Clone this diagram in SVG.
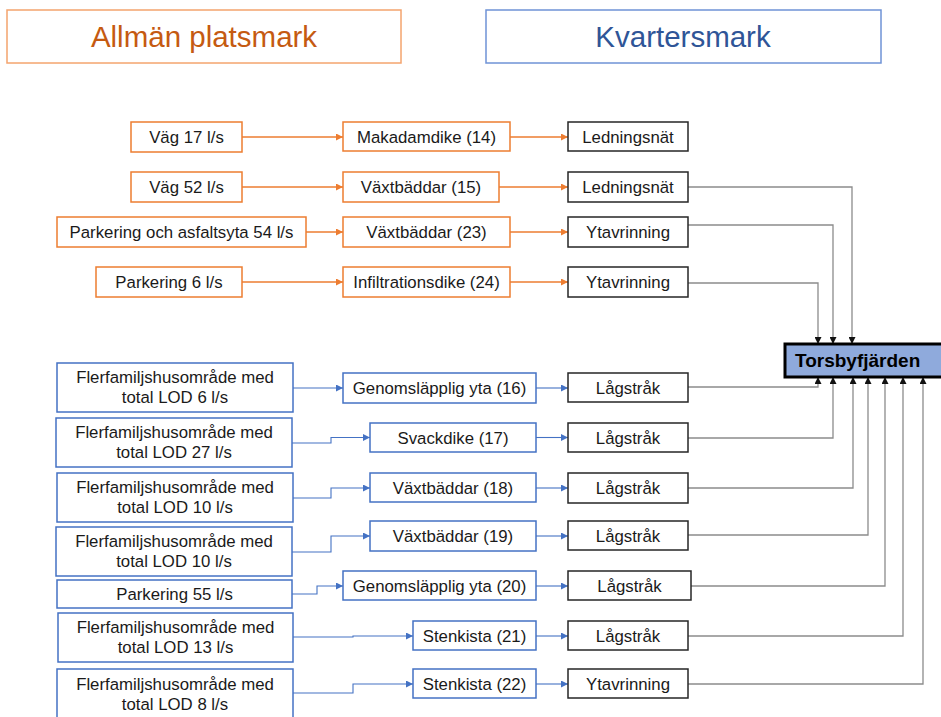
<svg xmlns="http://www.w3.org/2000/svg" width="941" height="717" viewBox="0 0 941 717">
<style>
text{font-family:"Liberation Sans",Arial,sans-serif;font-size:16.8px;fill:#1a1a1a;text-anchor:middle}
.o{fill:#fff;stroke:#ED7D31;stroke-width:1.5}
.b{fill:#fff;stroke:#4472C4;stroke-width:1.5}
.k{fill:#fff;stroke:#262626;stroke-width:1.5}
.co{fill:none;stroke:#ED7D31;stroke-width:1.5}
.cb{fill:none;stroke:#4472C4;stroke-width:1.1}
.cg{fill:none;stroke:#8C8C8C;stroke-width:1.3}
.h{font-size:29.5px}
</style>
<defs>
<marker id="ao" viewBox="0 0 6 6" refX="6" refY="3" markerWidth="8" markerHeight="7" orient="auto" markerUnits="userSpaceOnUse"><path d="M0,0L6,3L0,6z" fill="#ED7D31"/></marker>
<marker id="ab" viewBox="0 0 6 6" refX="6" refY="3" markerWidth="7" markerHeight="7" orient="auto" markerUnits="userSpaceOnUse"><path d="M0,0L6,3L0,6z" fill="#4472C4"/></marker>
<marker id="ak" viewBox="0 0 6 6" refX="6" refY="3" markerWidth="7" markerHeight="7" orient="auto" markerUnits="userSpaceOnUse"><path d="M0,0L6,3L0,6z" fill="#111"/></marker>
</defs>

<g id="hdr-allman"><rect x="7" y="10" width="394" height="53" fill="#fff" stroke="#F4A46E" stroke-width="1.5"/><text class="h" x="204" y="47" style="fill:#C55A11">Allmän platsmark</text></g>
<g id="hdr-kvarter"><rect x="486" y="10" width="395" height="53" fill="#fff" stroke="#6F93D6" stroke-width="1.5"/><text class="h" x="683" y="47" style="fill:#2F5597">Kvartersmark</text></g>

<g id="connectors">
<path class="co" d="M242,137H343" marker-end="url(#ao)"/>
<path class="co" d="M242,187H343" marker-end="url(#ao)"/>
<path class="co" d="M306,232H343" marker-end="url(#ao)"/>
<path class="co" d="M242,282H343" marker-end="url(#ao)"/>
<path class="co" d="M510,137H568" marker-end="url(#ao)"/>
<path class="co" d="M499,187H568" marker-end="url(#ao)"/>
<path class="co" d="M510,232H568" marker-end="url(#ao)"/>
<path class="co" d="M510,282H568" marker-end="url(#ao)"/>

<path class="cg" d="M688,187H852V344" marker-end="url(#ak)"/>
<path class="cg" d="M688,225H833V344" marker-end="url(#ak)"/>
<path class="cg" d="M688,283H818V344" marker-end="url(#ak)"/>
<path class="cg" d="M688,387H818V377" marker-end="url(#ak)"/>
<path class="cg" d="M688,438H833V377" marker-end="url(#ak)"/>
<path class="cg" d="M688,488H853V377" marker-end="url(#ak)"/>
<path class="cg" d="M688,535H868V377" marker-end="url(#ak)"/>
<path class="cg" d="M691,586H885V377" marker-end="url(#ak)"/>
<path class="cg" d="M688,636H903V377" marker-end="url(#ak)"/>
<path class="cg" d="M688,684H923V377" marker-end="url(#ak)"/>

<path class="cb" d="M293,388H343" marker-end="url(#ab)"/>
<path class="cb" d="M292,443H331V437.5H370" marker-end="url(#ab)"/>
<path class="cb" d="M293,498H331V488H370" marker-end="url(#ab)"/>
<path class="cb" d="M292,552H331V536H370" marker-end="url(#ab)"/>
<path class="cb" d="M292,594H317V586H343" marker-end="url(#ab)"/>
<path class="cb" d="M293,637H353V636H413" marker-end="url(#ab)"/>
<path class="cb" d="M293,693H353V684H413" marker-end="url(#ab)"/>
<path class="cb" d="M536,388H568" marker-end="url(#ab)"/>
<path class="cb" d="M536,437.5H568" marker-end="url(#ab)"/>
<path class="cb" d="M536,488H568" marker-end="url(#ab)"/>
<path class="cb" d="M536,536H568" marker-end="url(#ab)"/>
<path class="cb" d="M536,586H568" marker-end="url(#ab)"/>
<path class="cb" d="M536,636H568" marker-end="url(#ab)"/>
<path class="cb" d="M536,684H568" marker-end="url(#ab)"/>
</g>

<g id="s1"><rect class="o" x="131" y="122" width="111" height="30"/><text x="186.5" y="143">Väg 17 l/s</text></g>
<g id="s2"><rect class="o" x="131" y="172" width="111" height="30"/><text x="186.5" y="193">Väg 52 l/s</text></g>
<g id="s3"><rect class="o" x="57" y="217" width="249" height="30"/><text x="181.5" y="238">Parkering och asfaltsyta 54 l/s</text></g>
<g id="s4"><rect class="o" x="96" y="267" width="146" height="30"/><text x="169" y="288">Parkering 6 l/s</text></g>

<g id="m1"><rect class="o" x="343" y="122" width="167" height="29"/><text x="426.5" y="143">Makadamdike (14)</text></g>
<g id="m2"><rect class="o" x="343" y="172" width="156" height="30"/><text x="421" y="193">Växtbäddar (15)</text></g>
<g id="m3"><rect class="o" x="343" y="217" width="167" height="30"/><text x="426.5" y="238">Växtbäddar (23)</text></g>
<g id="m4"><rect class="o" x="343" y="267" width="167" height="30"/><text x="426.5" y="288">Infiltrationsdike (24)</text></g>

<g id="r1"><rect class="k" x="568" y="122" width="120" height="29"/><text x="628" y="143">Ledningsnät</text></g>
<g id="r2"><rect class="k" x="568" y="172" width="120" height="30"/><text x="628" y="193">Ledningsnät</text></g>
<g id="r3"><rect class="k" x="568" y="217" width="120" height="30"/><text x="628" y="238">Ytavrinning</text></g>
<g id="r4"><rect class="k" x="568" y="267" width="120" height="30"/><text x="628" y="288">Ytavrinning</text></g>
<g id="r5"><rect class="k" x="568" y="373" width="120" height="29"/><text x="628" y="393.5">Lågstråk</text></g>
<g id="r6"><rect class="k" x="568" y="423" width="120" height="29"/><text x="628" y="443.5">Lågstråk</text></g>
<g id="r7"><rect class="k" x="568" y="473" width="120" height="30"/><text x="628" y="494">Lågstråk</text></g>
<g id="r8"><rect class="k" x="568" y="521" width="120" height="29"/><text x="628" y="541.5">Lågstråk</text></g>
<g id="r9"><rect class="k" x="568" y="571" width="123" height="29"/><text x="629.5" y="591.5">Lågstråk</text></g>
<g id="r10"><rect class="k" x="568" y="621" width="120" height="29"/><text x="628" y="641.5">Lågstråk</text></g>
<g id="r11"><rect class="k" x="568" y="669" width="120" height="29"/><text x="628" y="689.5">Ytavrinning</text></g>

<g id="b1"><rect class="b" x="343" y="373" width="193" height="30"/><text x="439.5" y="394">Genomsläpplig yta (16)</text></g>
<g id="b2"><rect class="b" x="370" y="423" width="166" height="29"/><text x="453" y="443.5">Svackdike (17)</text></g>
<g id="b3"><rect class="b" x="370" y="473" width="166" height="29"/><text x="453" y="493.5">Växtbäddar (18)</text></g>
<g id="b4"><rect class="b" x="370" y="521" width="166" height="30"/><text x="453" y="542">Växtbäddar (19)</text></g>
<g id="b5"><rect class="b" x="343" y="571" width="193" height="29"/><text x="439.5" y="591.5">Genomsläpplig yta (20)</text></g>
<g id="b6"><rect class="b" x="413" y="621" width="123" height="29"/><text x="474.5" y="641.5">Stenkista (21)</text></g>
<g id="b7"><rect class="b" x="413" y="669" width="123" height="29"/><text x="474.5" y="689.5">Stenkista (22)</text></g>

<g id="l1"><rect class="b" x="57" y="363" width="236" height="49"/><text x="175" y="383">Flerfamiljshusområde med</text><text x="175" y="403">total LOD 6 l/s</text></g>
<g id="l2"><rect class="b" x="56" y="418" width="236" height="49"/><text x="174" y="438">Flerfamiljshusområde med</text><text x="174" y="458">total LOD 27 l/s</text></g>
<g id="l3"><rect class="b" x="57" y="473" width="236" height="49"/><text x="175" y="493">Flerfamiljshusområde med</text><text x="175" y="513">total LOD 10 l/s</text></g>
<g id="l4"><rect class="b" x="56" y="527" width="236" height="49"/><text x="174" y="547">Flerfamiljshusområde med</text><text x="174" y="567">total LOD 10 l/s</text></g>
<g id="l5"><rect class="b" x="57" y="580" width="235" height="28"/><text x="174.5" y="600">Parkering 55 l/s</text></g>
<g id="l6"><rect class="b" x="58" y="613" width="235" height="49"/><text x="175.5" y="633">Flerfamiljshusområde med</text><text x="175.5" y="653">total LOD 13 l/s</text></g>
<g id="l7"><rect class="b" x="57" y="669" width="236" height="52"/><text x="175" y="690">Flerfamiljshusområde med</text><text x="175" y="710">total LOD 8 l/s</text></g>

<g id="torsby"><rect x="785" y="344" width="162" height="33" fill="#8FAADC" stroke="#000" stroke-width="3"/><text x="795" y="367" style="text-anchor:start;font-weight:bold;font-size:19px;fill:#000">Torsbyfjärden</text></g>
</svg>
